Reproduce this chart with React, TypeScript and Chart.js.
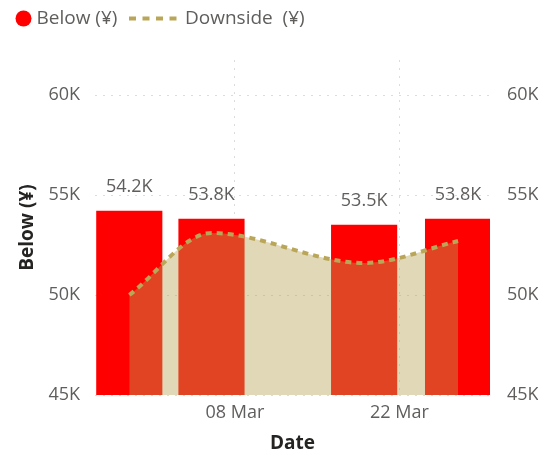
import React, { useEffect, useRef } from "react";
import { Chart, registerables } from "chart.js";
Chart.register(...registerables);

const dates = ["2023-02-27", "2023-03-06", "2023-03-19", "2023-03-27"];
const belowValues = [54200, 53800, 53500, 53800];
const downsideValues = [50000, 53100, 51600, 52700];
const xTickDates = ["2023-03-08", "2023-03-22"];
const xTickLabels = ["08 Mar", "22 Mar"];
const yTickValues = [45000, 50000, 55000, 60000];
const seriesNames = ["Below (¥)", "Downside  (¥)"];
const yAxisTitle = "Below (¥)";
const xAxisTitle = "Date";

const REF = Date.UTC(2023, 2, 1);
const toDay = (s: string) => {
  const [y, m, d] = s.split("-").map(Number);
  return (Date.UTC(y, m - 1, d) - REF) / 86400000;
};

const FONT = "'Segoe UI', 'Open Sans', sans-serif";
const TICK_COLOR = "#605E5C";
const TITLE_COLOR = "#252423";
const BAR_COLOR = "#FF0000";
const LINE_COLOR = "rgb(186,166,88)";
const AREA_COLOR = "rgba(183,162,83,0.42)";
const GRID_COLOR = "#DCDCDC";

const fmtK = (v: number) => (v / 1000).toFixed(1) + "K";
const tickK = (v: number) => Math.round(v / 1000) + "K";

const legendPlugin = {
  id: "customLegend",
  afterDraw(chart: any) {
    const ctx = chart.ctx;
    ctx.save();
    const y = 10.5;
    ctx.fillStyle = BAR_COLOR;
    ctx.beginPath();
    ctx.arc(15.5, y, 8, 0, Math.PI * 2);
    ctx.fill();
    ctx.font = `19px ${FONT}`;
    ctx.fillStyle = TICK_COLOR;
    ctx.textBaseline = "middle";
    ctx.textAlign = "left";
    ctx.fillText(seriesNames[0], 28.5, y);
    ctx.strokeStyle = LINE_COLOR;
    ctx.lineWidth = 4;
    ctx.setLineDash([7, 6.5]);
    ctx.beginPath();
    ctx.moveTo(121, y);
    ctx.lineTo(170, y);
    ctx.stroke();
    ctx.setLineDash([]);
    ctx.fillText(seriesNames[1], 177, y);
    ctx.restore();
  },
};

const dataLabelPlugin = {
  id: "barLabels",
  afterDatasetsDraw(chart: any) {
    const ctx = chart.ctx;
    chart.data.datasets.forEach((ds: any, di: number) => {
      if (ds.type !== "bar") return;
      const meta = chart.getDatasetMeta(di);
      ctx.save();
      ctx.font = `18px ${FONT}`;
      ctx.fillStyle = TICK_COLOR;
      ctx.textAlign = "center";
      ctx.textBaseline = "middle";
      meta.data.forEach((el: any, i: number) => {
        ctx.fillText(fmtK(belowValues[i]), el.x, el.y - 24);
      });
      ctx.restore();
    });
  },
};

export default function App() {
  const ref = useRef<HTMLCanvasElement>(null);
  useEffect(() => {
    if (!ref.current) return;
    const tickFont = { family: FONT, size: 18 };
    const titleFont = { family: FONT, size: 19, weight: "bold" as const };
    const chart = new Chart(ref.current, {
      type: "bar",
      data: {
        datasets: [
          {
            type: "line",
            label: seriesNames[1],
            data: dates.map((d, i) => ({ x: toDay(d), y: downsideValues[i] })),
            borderColor: LINE_COLOR,
            borderWidth: 4,
            borderDash: [6, 5],
            backgroundColor: AREA_COLOR,
            fill: "start",
            pointRadius: 0,
            cubicInterpolationMode: "monotone",
            order: 0,
            yAxisID: "y",
          } as any,
          {
            type: "bar",
            label: seriesNames[0],
            data: dates.map((d, i) => ({ x: toDay(d), y: belowValues[i] })),
            backgroundColor: BAR_COLOR,
            barThickness: 65.5,
            order: 1,
            yAxisID: "y",
          } as any,
        ],
      },
      options: {
        animation: false,
        responsive: true,
        maintainAspectRatio: false,
        events: [],
        layout: { padding: { top: 52, left: 0, right: 0, bottom: 0 } },
        plugins: {
          legend: { display: false },
          tooltip: { enabled: false },
        },
        scales: {
          x: {
            type: "linear",
            min: -4.92,
            max: 28.72,
            offset: false,
            afterBuildTicks: (s: any) => {
              s.ticks = xTickDates.map((d) => ({ value: toDay(d) }));
            },
            afterFit: (s: any) => {
              s.height = 63;
            },
            ticks: {
              autoSkip: false,
              maxRotation: 0,
              padding: 7,
              font: tickFont,
              color: TICK_COLOR,
              callback: (v: any) => {
                const i = xTickDates.findIndex((d) => toDay(d) === v);
                return i >= 0 ? xTickLabels[i] : "";
              },
            },
            grid: { color: GRID_COLOR, drawTicks: false, offset: false },
            border: { display: false, dash: [2, 6] },
            title: {
              display: true,
              text: xAxisTitle,
              font: titleFont,
              color: TITLE_COLOR,
              padding: { top: 0, bottom: 3 },
            },
          },
          y: {
            type: "linear",
            position: "left",
            min: 45000,
            max: 61750,
            afterBuildTicks: (s: any) => {
              s.ticks = yTickValues.map((v) => ({ value: v }));
            },
            afterFit: (s: any) => {
              s.width = 87;
            },
            ticks: {
              padding: 15,
              font: tickFont,
              color: TICK_COLOR,
              callback: (v: any) => tickK(Number(v)),
            },
            grid: { color: GRID_COLOR, drawTicks: false },
            border: { display: false, dash: [2, 6] },
            title: {
              display: true,
              text: yAxisTitle,
              font: titleFont,
              color: TITLE_COLOR,
              padding: { top: 8, bottom: 0 },
            },
          },
          y2: {
            type: "linear",
            position: "right",
            min: 45000,
            max: 61750,
            afterBuildTicks: (s: any) => {
              s.ticks = yTickValues.map((v) => ({ value: v }));
            },
            afterFit: (s: any) => {
              s.width = 48;
            },
            ticks: {
              padding: 17,
              font: tickFont,
              color: TICK_COLOR,
              callback: (v: any) => tickK(Number(v)),
            },
            grid: { display: false, drawTicks: false },
            border: { display: false },
          },
        },
      } as any,
      plugins: [legendPlugin, dataLabelPlugin],
    });
    return () => chart.destroy();
  }, []);
  return (
    <div style={{ width: 530, height: 450, position: "relative" }}>
      <canvas ref={ref} />
    </div>
  );
}
